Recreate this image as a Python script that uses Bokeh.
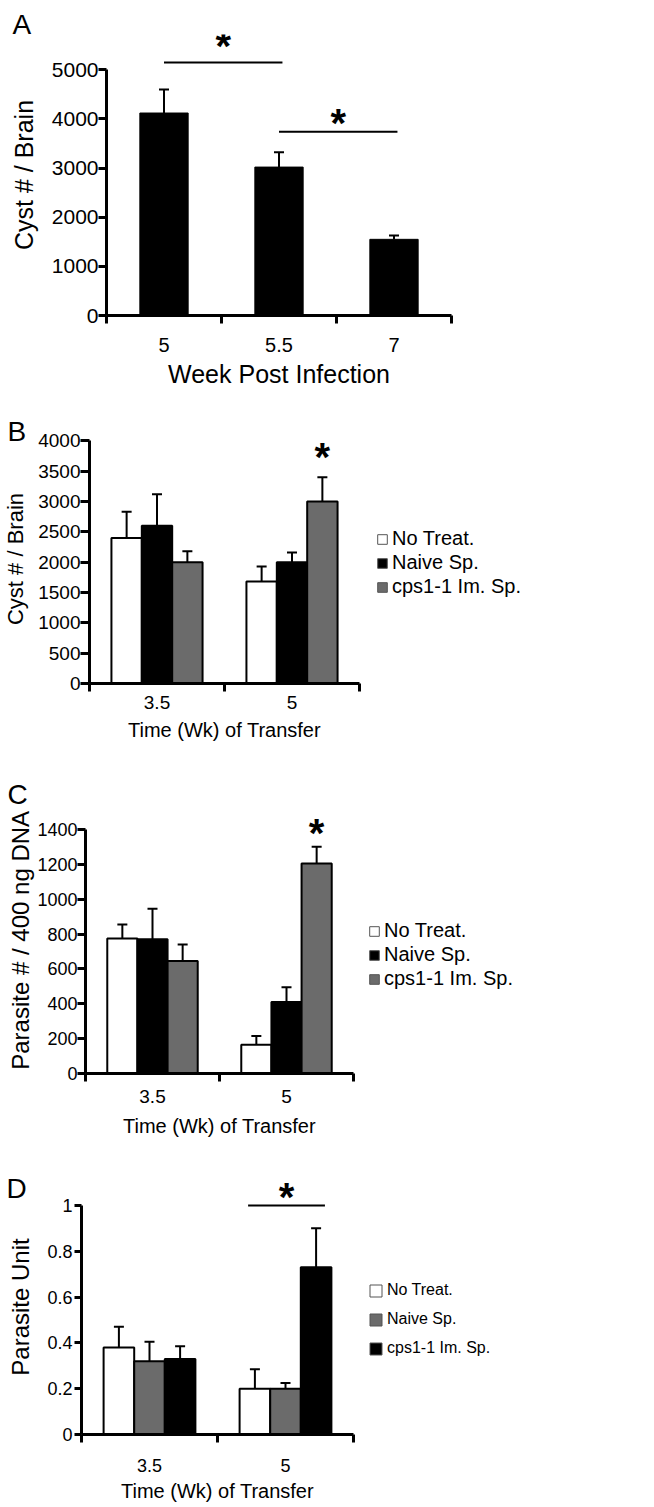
from bokeh.plotting import figure
from bokeh.layouts import column, row
from bokeh.models import (ColumnDataSource, FixedTicker, Whisker, TeeHead,
                          Legend, LegendItem, Label, Range1d)
from bokeh.core.properties import value
from bokeh.embed import file_html
from bokeh.resources import INLINE

FONT = "Liberation Sans"
PAGE_W = 654

# ---------------- data ----------------
A_weeks = ["5", "5.5", "7"]
A_cyst = [4120, 3020, 1550]
A_cyst_upper = [4600, 3320, 1630]
A_yticks = [0, 1000, 2000, 3000, 4000, 5000]
A_sig_from = [0, 1]
A_sig_to = [1, 2]
A_sig_line_y = [5150, 3740]
A_sig_star_y = [5570, 4000]

transfer_weeks = ["3.5", "5"]
treatments = ["No Treat.", "Naive Sp.", "cps1-1 Im. Sp."]

B_no_treat = [2400, 1680]
B_no_treat_upper = [2830, 1930]
B_naive = [2600, 2000]
B_naive_upper = [3120, 2160]
B_cps = [2000, 3000]
B_cps_upper = [2180, 3400]
B_yticks = [0, 500, 1000, 1500, 2000, 2500, 3000, 3500, 4000]
B_star_week, B_star_treat, B_star_y = 1, 2, 3800

C_no_treat = [775, 165]
C_no_treat_upper = [855, 215]
C_naive = [770, 410]
C_naive_upper = [945, 495]
C_cps = [645, 1205]
C_cps_upper = [740, 1300]
C_yticks = [0, 200, 400, 600, 800, 1000, 1200, 1400]
C_star_week, C_star_treat, C_star_y = 1, 2, 1405

D_no_treat = [0.38, 0.20]
D_no_treat_upper = [0.47, 0.285]
D_naive = [0.32, 0.20]
D_naive_upper = [0.405, 0.225]
D_cps = [0.33, 0.73]
D_cps_upper = [0.385, 0.90]
D_yticks = [0, 0.2, 0.4, 0.6, 0.8, 1]
D_sig_week, D_sig_from, D_sig_to = 1, 0, 2
D_sig_line_y = 1.0
D_sig_star_y = 1.052

WHITE, BLACK, GREY = "white", "black", "#6b6b6b"


def base_fig(width, height, left, right, top, bottom, xlabels, y_end, y_ticks,
             ytick_font, ytick_out, ytick_standoff, ylabel, ylabel_font, ylabel_standoff,
             xtick_font, xtick_standoff, xlabel, xlabel_font, xlabel_standoff):
    n = len(xlabels)
    p = figure(width=width, height=height, x_range=Range1d(0, n), y_range=Range1d(0, y_end),
               output_backend="svg", toolbar_location=None,
               min_border_left=left, min_border_right=right,
               min_border_top=top, min_border_bottom=bottom)
    p.frame_align = False
    p.xgrid.visible = False
    p.ygrid.visible = False
    p.outline_line_color = None
    p.background_fill_color = "white"
    p.border_fill_color = "white"

    yax = p.yaxis[0]
    yax.ticker = FixedTicker(ticks=y_ticks)
    yax.bounds = (0, y_ticks[-1])
    yax.axis_line_width = 3
    yax.axis_line_color = "black"
    yax.major_tick_line_width = 3
    yax.major_tick_line_color = "black"
    yax.major_tick_out = ytick_out
    yax.major_tick_in = 0
    yax.minor_tick_line_color = None
    yax.minor_tick_out = 0
    yax.major_label_text_font = FONT
    yax.major_label_text_font_size = ytick_font
    yax.major_label_text_color = "black"
    yax.major_label_standoff = ytick_standoff
    yax.axis_label = ylabel
    yax.axis_label_text_font = FONT
    yax.axis_label_text_font_size = ylabel_font
    yax.axis_label_text_font_style = "normal"
    yax.axis_label_text_color = "black"
    yax.axis_label_standoff = ylabel_standoff

    centers = [i + 0.5 for i in range(n)]
    xax = p.xaxis[0]
    xax.ticker = FixedTicker(ticks=centers, minor_ticks=list(range(n + 1)))
    xax.major_label_overrides = {c: lab for c, lab in zip(centers, xlabels)}
    xax.bounds = (0, n)
    xax.axis_line_width = 3
    xax.axis_line_color = "black"
    xax.major_tick_line_color = None
    xax.major_tick_out = 0
    xax.major_tick_in = 0
    xax.minor_tick_line_color = "black"
    xax.minor_tick_line_width = 3
    xax.minor_tick_out = 8
    xax.minor_tick_in = 0
    xax.major_label_text_font = FONT
    xax.major_label_text_font_size = xtick_font
    xax.major_label_text_color = "black"
    xax.major_label_standoff = xtick_standoff
    xax.axis_label = xlabel
    xax.axis_label_text_font = FONT
    xax.axis_label_text_font_size = xlabel_font
    xax.axis_label_text_font_style = "normal"
    xax.axis_label_text_color = "black"
    xax.axis_label_standoff = xlabel_standoff
    return p


def add_whisker(p, src, cap):
    p.add_layout(Whisker(source=src, base="x", lower="top", upper="upper", dimension="height",
                         line_width=2, line_color="black", lower_head=None,
                         upper_head=TeeHead(size=cap, line_width=2, line_color="black")))


def add_star(p, xs, ys, size="40px", shift=4):
    p.text(x=xs, y=ys, text=["*"] * len(xs), text_font=value(FONT), text_font_style="bold",
           text_font_size=size, text_align="center", text_baseline="alphabetic",
           text_color="black", y_offset=shift)


def add_letter(p, letter, x, y):
    p.add_layout(Label(x=x, y=y, x_units="screen", y_units="screen", text=letter,
                       text_font=FONT, text_font_size="28px", text_color="black"), "above")


BAR_W = 0.225
OFFSETS = [-BAR_W, 0.0, BAR_W]


def grouped(p, means, uppers, colors):
    sources = []
    for k in range(3):
        xs = [i + 0.5 + OFFSETS[k] for i in range(len(means[k]))]
        src = ColumnDataSource(dict(x=xs, top=means[k], upper=uppers[k]))
        p.vbar(x="x", top="top", width=BAR_W, source=src, fill_color=colors[k],
               line_color="black", line_width=2)
        add_whisker(p, src, 10)
        sources.append(src)
    return sources


def legend_fig(width, height, sources, colors, font, glyph, spacing, loc):
    # hidden copies of the bars serve only as legend keys
    q = figure(width=width, height=height, x_range=Range1d(0, 2), y_range=Range1d(0, 1),
               output_backend="svg", toolbar_location=None,
               x_axis_location=None, y_axis_location=None,
               min_border_left=0, min_border_right=0, min_border_top=0, min_border_bottom=0)
    q.frame_align = False
    q.xgrid.visible = False
    q.ygrid.visible = False
    q.outline_line_color = None
    rends = [q.vbar(x="x", top="top", width=BAR_W, source=s, fill_color=c,
                    line_color="#555555", line_width=1, visible=False)
             for s, c in zip(sources, colors)]
    leg = Legend(items=[LegendItem(label=t, renderers=[r]) for t, r in zip(treatments, rends)],
                 location=loc, glyph_width=glyph, glyph_height=glyph,
                 label_text_font=FONT, label_text_font_size=font, label_text_color="black",
                 spacing=spacing, padding=0, margin=0, label_standoff=4,
                 border_line_color=None, background_fill_alpha=0,
                 inactive_fill_alpha=0)
    q.add_layout(leg)
    return q


def bar_x(week, treat):
    return week + 0.5 + OFFSETS[treat]


# ---------------- Panel A ----------------
pA = base_fig(PAGE_W, 400, 106, 203, 34, 85, A_weeks, 5718, A_yticks,
              "21px", 8, 0, "Cyst # / Brain", "25px", 11,
              "20px", 14, "Week Post Infection", "25px", 5)
srcA = ColumnDataSource(dict(x=[i + 0.5 for i in range(len(A_weeks))], top=A_cyst, upper=A_cyst_upper))
pA.vbar(x="x", top="top", width=0.42, source=srcA, fill_color="black", line_color="black")
add_whisker(pA, srcA, 10)
ax0 = [f + 0.5 for f in A_sig_from]
ax1 = [t + 0.53 for t in A_sig_to]
pA.segment(x0=ax0, x1=ax1, y0=A_sig_line_y, y1=A_sig_line_y, line_color="black", line_width=2)
add_star(pA, [(a + b) / 2 for a, b in zip(ax0, ax1)], A_sig_star_y)
add_letter(pA, "A", -94, -5)

# ---------------- Panel B ----------------
pB = base_fig(365, 360, 87, 6, 34, 77, transfer_weeks, 4104, B_yticks,
              "19px", 9, 0, "Cyst # / Brain", "22px", 7,
              "19px", 4, "Time (Wk) of Transfer", "20px", 7)
srcB = grouped(pB, [B_no_treat, B_naive, B_cps], [B_no_treat_upper, B_naive_upper, B_cps_upper],
               [WHITE, BLACK, GREY])
add_star(pB, [bar_x(B_star_week, B_star_treat)], [B_star_y])
add_letter(pB, "B", -82, -12)
lB = legend_fig(PAGE_W - 365, 360, srcB, [WHITE, BLACK, GREY], "20px", 12, 1, (11, 162))

# ---------------- Panel C ----------------
pC = base_fig(360, 385, 85, 7, 40, 72, transfer_weeks, 1566, C_yticks,
              "18px", 8, 0, "Parasite # / 400 ng  DNA", "24px", 0,
              "19px", 8, "Time (Wk) of Transfer", "20px", 9)
srcC = grouped(pC, [C_no_treat, C_naive, C_cps], [C_no_treat_upper, C_naive_upper, C_cps_upper],
               [WHITE, BLACK, GREY])
add_star(pC, [bar_x(C_star_week, C_star_treat)], [C_star_y])
add_letter(pC, "C", -78, -9)
lC = legend_fig(PAGE_W - 360, 385, srcC, [WHITE, BLACK, GREY], "20px", 12, 1, (8, 155))

# ---------------- Panel D ----------------
pD = base_fig(360, 362, 81, 7, 34, 73, transfer_weeks, 1.113, D_yticks,
              "18px", 7, 2, "Parasite Unit", "24px", 10,
              "18px", 16, "Time (Wk) of Transfer", "20px", 5)
srcD = grouped(pD, [D_no_treat, D_naive, D_cps], [D_no_treat_upper, D_naive_upper, D_cps_upper],
               [WHITE, GREY, BLACK])
dx0 = bar_x(D_sig_week, D_sig_from) - 0.05
dx1 = bar_x(D_sig_week, D_sig_to) + 0.065
pD.segment(x0=[dx0], x1=[dx1], y0=[D_sig_line_y], y1=[D_sig_line_y], line_color="black", line_width=2)
add_star(pD, [(dx0 + dx1) / 2], [D_sig_star_y])
add_letter(pD, "D", -75, -24)
lD = legend_fig(PAGE_W - 360, 362, srcD, [WHITE, GREY, BLACK], "16px", 15, 11, (8, 150))

layout = column(pA, row(pB, lB, spacing=0), row(pC, lC, spacing=0), row(pD, lD, spacing=0),
                spacing=0)
open("out.html", "w").write(file_html(layout, INLINE))
